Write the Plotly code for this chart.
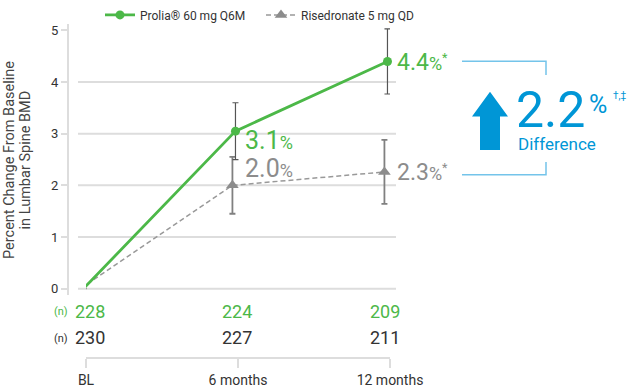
import math
import plotly.graph_objects as go

W, H = 629, 388

# ---------------- data ----------------
months = [0, 6, 12]
tick_text = ["BL", "6 months", "12 months"]
prolia_name = "Prolia® 60 mg Q6M"
ris_name = "Risedronate 5 mg QD"
prolia_mean = [0.0, 3.05, 4.40]
prolia_err = [math.nan, 0.55, 0.63]
ris_mean = [0.0, 2.00, 2.26]
ris_err = [math.nan, 0.55, 0.62]
prolia_label = ["3.1", "4.4"]
ris_label = ["2.0", "2.3"]
prolia_n = [228, 224, 209]
ris_n = [230, 227, 211]
difference = "2.2"
y_ticks = [0, 1, 2, 3, 4, 5]

# ---------------- style ----------------
GREEN = "#4cb848"
GRAY = "#8c8c8c"
DARK = "#333333"
BLUE = "#0096d6"
LBLUE = "#74c4ea"
GRID = "#dddddd"
FONT = "Roboto"

X0_PX, X1_PX = 86, 390          # pixel positions of x = 0 and x = 12


def px(x):
    return x / W


def py(y):
    return 1 - y / H


def xdata_to_paper(v):
    return px(X0_PX + (X1_PX - X0_PX) * v / 12)


prolia_dx = -0.1
ris_dx = -0.22

fig = go.Figure()
fig.add_trace(go.Scatter(
    x=[m + ris_dx for m in months], y=ris_mean, name=ris_name, legendrank=2,
    mode="lines+markers",
    line=dict(color="#999999", width=1.5, dash="5px,3px"),
    marker=dict(symbol="triangle-up", size=11, color=GRAY),
    error_y=dict(type="data", array=ris_err, visible=True, color="#808080",
                 thickness=1.8, width=3),
    cliponaxis=False,
))
fig.add_trace(go.Scatter(
    x=[m + prolia_dx for m in months], y=prolia_mean, name=prolia_name, legendrank=1,
    mode="lines+markers",
    line=dict(color=GREEN, width=2.8),
    marker=dict(symbol="circle", size=9, color=GREEN),
    error_y=dict(type="data", array=prolia_err, visible=True, color="#555555",
                 thickness=1.2, width=3),
    cliponaxis=False,
))

shapes = []
# horizontal gridlines 0..4
for v in y_ticks[:-1]:
    shapes.append(dict(type="line", xref="paper", yref="y", x0=px(78), x1=px(396),
                       y0=v, y1=v, line=dict(color=GRID, width=2), layer="below"))

# blue bracket
shapes.append(dict(type="path", xref="paper", yref="paper",
                   path=f"M {px(462)},{py(57)} L {px(546)},{py(57)} L {px(546)},{py(71)}",
                   line=dict(color=LBLUE, width=1.5)))
shapes.append(dict(type="path", xref="paper", yref="paper",
                   path=f"M {px(546)},{py(159)} L {px(546)},{py(172)} L {px(462)},{py(172)}",
                   line=dict(color=LBLUE, width=1.5)))
# arrow
pts = [(480, 147), (500, 147), (500, 113), (508, 113), (490, 88), (472, 113), (480, 113)]
path = "M " + " L ".join(f"{px(a)},{py(b)}" for a, b in pts) + " Z"
shapes.append(dict(type="path", xref="paper", yref="paper", path=path,
                   fillcolor=BLUE, line=dict(width=0)))

ann = []
label_dx = 0.2
# value labels
ann.append(dict(x=xdata_to_paper(months[1] + label_dx), y=2.87, xref="paper", yref="y",
                xanchor="left", yanchor="middle",
                text=f"{prolia_label[0]}<span style='font-size:18px'>%</span>",
                font=dict(size=25, color=GREEN), showarrow=False))
ann.append(dict(x=xdata_to_paper(months[1] + label_dx), y=2.33, xref="paper", yref="y",
                xanchor="left", yanchor="middle",
                text=f"{ris_label[0]}<span style='font-size:18px'>%</span>",
                font=dict(size=25, color=GRAY), showarrow=False))
ann.append(dict(x=xdata_to_paper(months[2] + label_dx), y=4.38, xref="paper", yref="y",
                xanchor="left", yanchor="middle",
                text=f"{prolia_label[1]}<span style='font-size:18px'>%<sup>*</sup></span>",
                font=dict(size=23, color=GREEN), showarrow=False))
ann.append(dict(x=xdata_to_paper(months[2] + label_dx), y=2.24, xref="paper", yref="y",
                xanchor="left", yanchor="middle",
                text=f"{ris_label[1]}<span style='font-size:18px'>%<sup>*</sup></span>",
                font=dict(size=23, color=GRAY), showarrow=False))

# difference
ann.append(dict(x=px(514), y=py(106), xref="paper", yref="paper", xanchor="left", yanchor="middle",
                text=difference, font=dict(size=50, color=BLUE), showarrow=False))
ann.append(dict(x=px(587), y=py(101), xref="paper", yref="paper", xanchor="left", yanchor="middle",
                text="%", font=dict(size=25, color=BLUE), showarrow=False))
ann.append(dict(x=px(611), y=py(92), xref="paper", yref="paper", xanchor="left", yanchor="middle",
                text="†,‡", font=dict(size=10, color=BLUE), showarrow=False))
ann.append(dict(x=px(516), y=py(140.5), xref="paper", yref="paper", xanchor="left", yanchor="middle",
                text="Difference", font=dict(size=17, color=BLUE), showarrow=False))

# n rows
n_dx = [0.15, -0.05, -0.2]
for m, d, n in zip(months, n_dx, prolia_n):
    ann.append(dict(x=m + d, y=py(310), xref="x", yref="paper", xanchor="center", yanchor="middle",
                    text=str(n), font=dict(size=18, color=GREEN), showarrow=False))
for m, d, n in zip(months, n_dx, ris_n):
    ann.append(dict(x=m + d, y=py(337), xref="x", yref="paper", xanchor="center", yanchor="middle",
                    text=str(n), font=dict(size=18, color=DARK), showarrow=False))
ann.append(dict(x=px(61), y=py(311), xref="paper", yref="paper", xanchor="center", yanchor="middle",
                text="(n)", font=dict(size=11, color=GREEN), showarrow=False))
ann.append(dict(x=px(61), y=py(338), xref="paper", yref="paper", xanchor="center", yanchor="middle",
                text="(n)", font=dict(size=11, color=DARK), showarrow=False))

# y axis title (two lines)
ann.append(dict(x=px(10), y=py(157), xref="paper", yref="paper", xanchor="center", yanchor="middle",
                text="Percent Change From Baseline", textangle=-90,
                font=dict(size=14.5, color="#444444"), showarrow=False))
ann.append(dict(x=px(25.5), y=py(157), xref="paper", yref="paper", xanchor="center", yanchor="middle",
                text="in Lumbar Spine BMD", textangle=-90,
                font=dict(size=14.5, color="#444444"), showarrow=False))

fig.update_layout(
    width=W, height=H,
    margin=dict(l=0, r=0, t=0, b=0),
    template="none",
    paper_bgcolor="white", plot_bgcolor="rgba(0,0,0,0)",
    font=dict(family=FONT, color=DARK),
    showlegend=True,
    legend=dict(orientation="h", x=px(100), y=1.012, xanchor="left", yanchor="top",
                font=dict(size=12, color=DARK), bgcolor="rgba(0,0,0,0)",
                traceorder="normal", entrywidth=116, entrywidthmode="pixels"),
    xaxis=dict(domain=[px(X0_PX), px(X1_PX)], range=[0, 12], anchor="free", position=py(358),
               showline=True, linecolor=GRID, linewidth=2, ticks="outside", ticklen=9,
               tickwidth=2, tickcolor=GRID, tickvals=months, ticktext=tick_text,
               tickfont=dict(size=14, color=DARK), showgrid=False, zeroline=False),
    yaxis=dict(domain=[py(293.6), py(19)], range=[-0.12, 5.13], anchor="free", position=px(68),
               showline=True, linecolor=GRID, linewidth=2, ticks="outside", ticklen=6,
               tickwidth=2, tickcolor=GRID, tickvals=y_ticks,
               tickfont=dict(size=13, color=DARK), showgrid=False, zeroline=False),
    shapes=shapes,
    annotations=ann,
)

fig.write_html("out.html", config={"displayModeBar": False},
               post_script="document.body.style.margin='0px';")
